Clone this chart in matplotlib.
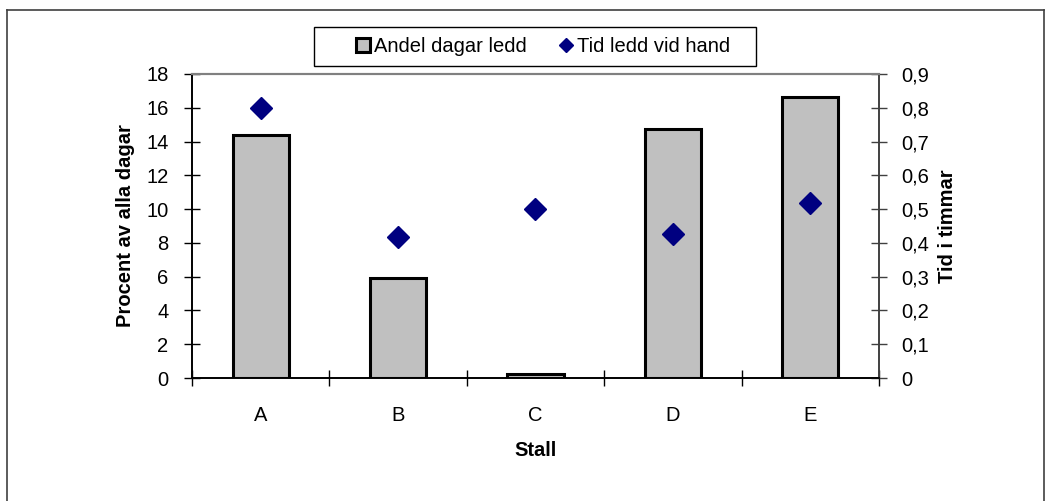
import numpy as np
import matplotlib.pyplot as plt
from matplotlib.lines import Line2D
from matplotlib.patches import Rectangle
from matplotlib.ticker import FixedLocator, FuncFormatter

plt.rcParams['font.family'] = ['Liberation Sans', 'DejaVu Sans']

stall = ["A", "B", "C", "D", "E"]
andel = [14.4, 5.9, 0.25, 14.75, 16.65]      # % av alla dagar
tid = [0.80, 0.418, 0.50, 0.426, 0.518]       # timmar

FS = 14.5

fig = plt.figure(figsize=(10.51, 5.01), dpi=100)
ax = fig.add_axes([0.1827, 0.2455, 0.6536, 0.6068])
ax2 = ax.twinx()

x = np.arange(len(stall))
bars = ax.bar(x, andel, width=0.41, color="#c0c0c0", edgecolor="black",
              linewidth=2.2, label="Andel dagar ledd", zorder=2)
pts, = ax2.plot(x, tid, linestyle="none", marker="D", markersize=11.5,
                color="#000080", label="Tid ledd vid hand", zorder=3)

ax.set_xlim(-0.5, len(stall) - 0.5)
ax.set_ylim(0, 18)
ax.set_yticks(np.arange(0, 19, 2))
ax2.set_ylim(0, 0.9)
ax2.set_yticks(np.arange(0, 0.91, 0.1))
ax2.yaxis.set_major_formatter(FuncFormatter(lambda v, p: "0" if abs(v) < 1e-9 else f"{v:.1f}".replace(".", ",")))

ax.set_xticks(x)
ax.set_xticklabels(stall)
ax.xaxis.set_minor_locator(FixedLocator(np.arange(-0.5, len(stall), 1)))
ax.tick_params(axis="x", which="major", length=0, pad=20, labelsize=FS)
ax.tick_params(axis="x", which="minor", length=12, direction="inout", width=1)
ax.tick_params(axis="y", length=12, direction="inout", width=1, labelsize=FS, pad=11)
ax2.tick_params(axis="y", length=12, direction="inout", width=1, labelsize=FS, pad=10,
                color="#404040")

for a in (ax, ax2):
    a.spines["top"].set_color("#808080")
    a.spines["top"].set_linewidth(1.5)
    a.spines["left"].set_color("black")
    a.spines["bottom"].set_color("black")
    a.spines["right"].set_color("#404040")
    a.spines["left"].set_linewidth(1.2)
    a.spines["bottom"].set_linewidth(1.2)
    a.spines["right"].set_linewidth(1.2)

ax.set_xlabel("Stall", fontsize=FS, fontweight="bold", labelpad=12)
ax.set_ylabel("Procent av alla dagar", fontsize=FS, fontweight="bold")
ax2.set_ylabel("Tid i timmar", fontsize=FS, fontweight="bold")
ax.yaxis.set_label_coords(-0.0975, 0.5)
ax2.yaxis.set_label_coords(1.1004, 0.5)
ax2.yaxis.label.set_va("center")
ax.yaxis.label.set_va("center")

leg = fig.legend(handles=[bars, pts], loc="center", bbox_to_anchor=(0.517, 0.907),
                 ncol=2, fontsize=FS, frameon=False, handlelength=0.7,
                 handletextpad=0.2, columnspacing=1.6, markerscale=0.6)
# legend frame (wider than matplotlib's own padding allows)
fig.add_artist(Rectangle((0.2988, 0.8683), 0.4205, 0.0778, transform=fig.transFigure,
                         facecolor="none", edgecolor="black", linewidth=1.0))

# outer chart border
for xs, ys in [([0.0067, 0.0067], [0.98, 0.0]), ([0.0067, 0.993], [0.98, 0.98]),
               ([0.993, 0.993], [0.98, 0.0])]:
    fig.add_artist(Line2D(xs, ys, color="#404040", linewidth=1.2))

fig.savefig("out.png", dpi=100)
